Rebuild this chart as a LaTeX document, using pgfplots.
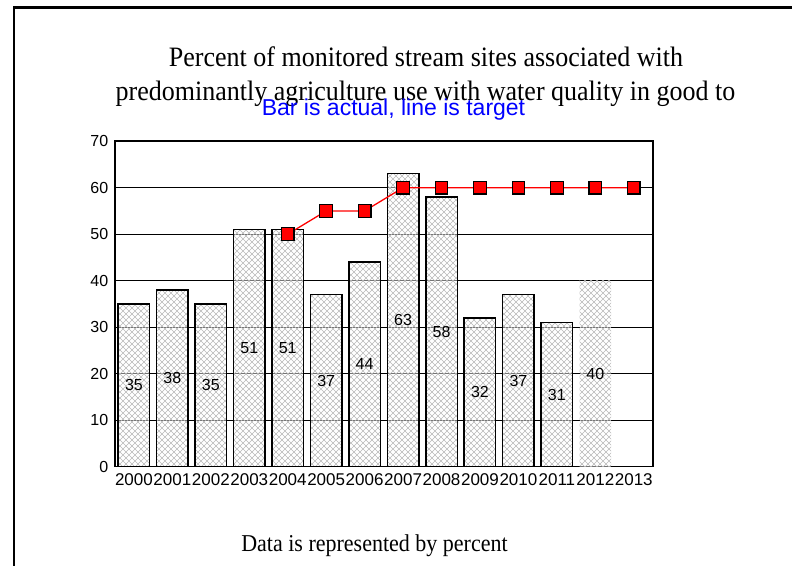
\documentclass[border=0pt]{standalone}
\usepackage{fontspec}
\setmainfont{Liberation Serif}
\newfontfamily\arial{Liberation Sans}
\usepackage{graphicx}
\usepackage{pgfplots}
\pgfplotsset{compat=1.18}
\usetikzlibrary{patterns}
\pgfdeclarepatternformonly{xhatch}{\pgfpoint{-0.5bp}{-0.5bp}}{\pgfpoint{6.5bp}{6.5bp}}{\pgfpoint{6bp}{6bp}}{%
  \pgfsetlinewidth{0.45bp}%
  \pgfpathmoveto{\pgfpoint{0bp}{0bp}}\pgfpathlineto{\pgfpoint{6.05bp}{6.05bp}}%
  \pgfpathmoveto{\pgfpoint{0bp}{6bp}}\pgfpathlineto{\pgfpoint{6.05bp}{-0.05bp}}%
  \pgfusepath{stroke}}
\definecolor{hatch}{RGB}{185,185,185}
\begin{document}
\begin{tikzpicture}[x=1bp,y=1bp]
\path[use as bounding box] (0,0) rectangle (792,566);
\draw[line width=2.4bp] (14.2,-5) -- (14.2,558.3) -- (800,558.3);
\node[anchor=base, inner sep=0pt, font=\fontsize{26bp}{30bp}\selectfont] at (426,499.3) {\scalebox{1}[1.08]{Percent of monitored stream sites associated with}};
\node[anchor=base, inner sep=0pt, font=\fontsize{26bp}{30bp}\selectfont] at (425.5,465) {\scalebox{1}[1.08]{predominantly agriculture use with water quality in good to}};
\node[anchor=base, inner sep=0pt, text=blue, font=\arial\fontsize{23bp}{27bp}\selectfont] at (393.5,450) {Bar is actual, line is target};
\node[anchor=base, inner sep=0pt, font=\fontsize{22bp}{26bp}\selectfont] at (374.5,14.3) {\scalebox{1}[1.1]{Data is represented by percent}};
\begin{axis}[
  at={(114.7bp,99.3bp)}, anchor=south west,
  scale only axis, width=538.3bp, height=325.5bp,
  xmin=-0.5, xmax=13.5, ymin=0, ymax=70,
  xtick={0,...,13},
  xticklabels={2000,2001,2002,2003,2004,2005,2006,2007,2008,2009,2010,2011,2012,2013},
  ytick={0,10,...,70},
  ymajorgrids,
  major grid style={black, line width=1.3bp},
  axis line style={line width=1.6bp},
  major tick length=0pt,
  /pgf/number format/assume math mode=true,
  yticklabel style={font=\arial\fontsize{16bp}{18bp}\selectfont, xshift=-3bp},
  xticklabel style={font=\arial\fontsize{17bp}{19bp}\selectfont, yshift=-3bp},
]
\addplot[ybar, bar width=31.5bp, bar shift=0pt, draw=black, line width=1.5bp,
  pattern=xhatch, pattern color=hatch, preaction={fill=white, fill opacity=0.45},
  nodes near coords, visualization depends on={rawy \as \rawy},
  nodes near coords style={font=\arial\fontsize{16bp}{18bp}\selectfont, anchor=center, yshift=-\rawy*2.325bp, text=black}]
  coordinates {(0,35) (1,38) (2,35) (3,51) (4,51) (5,37) (6,44) (7,63) (8,58) (9,32) (10,37) (11,31)};
\addplot[ybar, bar width=31.5bp, bar shift=0pt, draw=none,
  pattern=xhatch, pattern color=hatch, preaction={fill=white, fill opacity=0.45},
  nodes near coords, visualization depends on={rawy \as \rawy},
  nodes near coords style={font=\arial\fontsize{16bp}{18bp}\selectfont, anchor=center, yshift=-\rawy*2.325bp, text=black}]
  coordinates {(12,40)};
\addplot[red, line width=1.3bp, mark=square*, mark size=6.3bp,
  mark options={fill=red, draw=black, line width=1.2bp}]
  coordinates {(4,50) (5,55) (6,55) (7,60) (8,60) (9,60) (10,60) (11,60) (12,60) (13,60)};
\end{axis}
\end{tikzpicture}
\end{document}
